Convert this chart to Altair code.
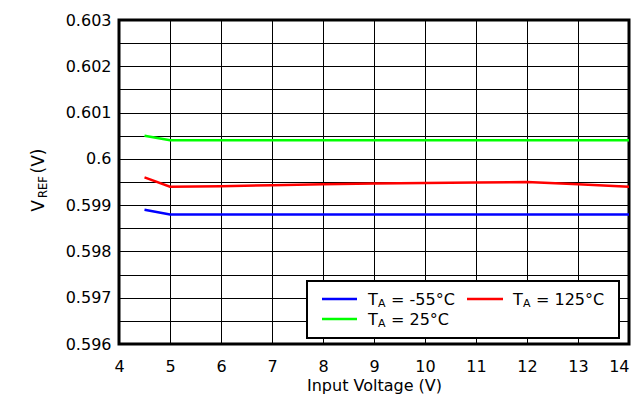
import altair as alt
import pandas as pd

# ---- data ----
input_voltage = [4.5, 5, 6, 7, 8, 9, 10, 11, 12, 13, 14]
vref_m55 = [0.5989, 0.5988, 0.5988, 0.5988, 0.5988, 0.5988, 0.5988, 0.5988, 0.5988, 0.5988, 0.5988]
vref_25 = [0.6005, 0.6004, 0.6004, 0.6004, 0.6004, 0.6004, 0.6004, 0.6004, 0.6004, 0.6004, 0.6004]
vref_125 = [0.5996, 0.5994, 0.59941, 0.59943, 0.59945, 0.59947, 0.59948, 0.59949, 0.5995, 0.59945, 0.5994]
series_names = ["-55", "25", "125"]
series_colors = ["#0000FF", "#00FF00", "#FF0000"]
x_ticks = [4 + 0.5 * i for i in range(21)]
y_ticks = [round(0.596 + 0.0005 * i, 4) for i in range(15)]

FONT = "DejaVu Sans"

rows = []
for name, vals in zip(series_names, [vref_m55, vref_25, vref_125]):
    for xv, yv in zip(input_voltage, vals):
        rows.append({"vin": xv, "vref": yv, "series": name})
df = pd.DataFrame(rows)

lines = alt.Chart(df).mark_line(strokeWidth=2.5).encode(
    x=alt.X("vin:Q", scale=alt.Scale(domain=[4, 14], nice=False, zero=False),
            axis=alt.Axis(values=x_ticks, labelExpr="datum.value % 1 == 0 ? datum.label : ''",
                          format="d", grid=True, gridColor="black", gridWidth=1,
                          domain=False, ticks=False, labelFlush=False,
                          labelAlign=alt.condition("datum.value == 14", alt.value("right"), alt.value("center")),
                          labelFont=FONT, labelFontSize=16, labelColor="black", labelPadding=14,
                          title="Input Voltage (V)", titleFont=FONT, titleFontSize=16,
                          titleFontWeight="normal", titleColor="black", titlePadding=3)),
    y=alt.Y("vref:Q", scale=alt.Scale(domain=[0.596, 0.603], nice=False, zero=False),
            axis=alt.Axis(values=y_ticks,
                          labelExpr="round(datum.value * 2000) % 2 == 0 ? format(datum.value, '.3~f') : ''",
                          grid=True, gridColor="black", gridWidth=1, domain=False, ticks=False,
                          labelFlush=False, labelFont=FONT, labelFontSize=16, labelColor="black",
                          labelPadding=8, title=None)),
    color=alt.Color("series:N", scale=alt.Scale(domain=series_names, range=series_colors), legend=None),
)

one = alt.Data(values=[{"a": 0}])


def txt(s, x, y, size=16, angle=0, align="left"):
    return alt.Chart(one).mark_text(text=s, font=FONT, fontSize=size, angle=angle, align=align,
                                    baseline="middle", color="black").encode(
        x=alt.value(x), y=alt.value(y))


def rule(x, x2, y, y2, color, w):
    return alt.Chart(one).mark_rule(color=color, strokeWidth=w).encode(
        x=alt.value(x), x2=alt.value(x2), y=alt.value(y), y2=alt.value(y2))


legend_box = alt.Chart(one).mark_rect(fill="white", stroke="black", strokeWidth=2).encode(
    x=alt.value(188), x2=alt.value(500), y=alt.value(261), y2=alt.value(318))

legend_layers = [
    legend_box,
    rule(203, 238, 279, 279, "#0000FF", 2.5),
    rule(348, 384, 279, 279, "#FF0000", 2.5),
    rule(203, 238, 299, 299, "#00FF00", 2.5),
    txt("T", 249, 280), txt("A", 259, 284, size=11), txt("= -55°C", 272, 280),
    txt("T", 394, 280), txt("A", 404, 284, size=11), txt("= 125°C", 417, 280),
    txt("T", 249, 300), txt("A", 259, 304, size=11), txt("= 25°C", 272, 300),
]

ytitle = [
    txt("V", -80, 186, size=17, angle=270, align="center"),
    txt("REF", -75, 167, size=11.5, angle=270, align="center"),
    txt("(V)", -80, 141, size=17, angle=270, align="center"),
]

chart = alt.layer(lines, *legend_layers, *ytitle).properties(
    width=510, height=324,
    autosize=alt.AutoSizeParams(type="none"),
    padding={"left": 111, "top": 12, "right": 2, "bottom": 50},
    background="white",
).configure_view(stroke="black", strokeWidth=3)

chart.save("out.html", embed_options={"renderer": "svg", "actions": False})
